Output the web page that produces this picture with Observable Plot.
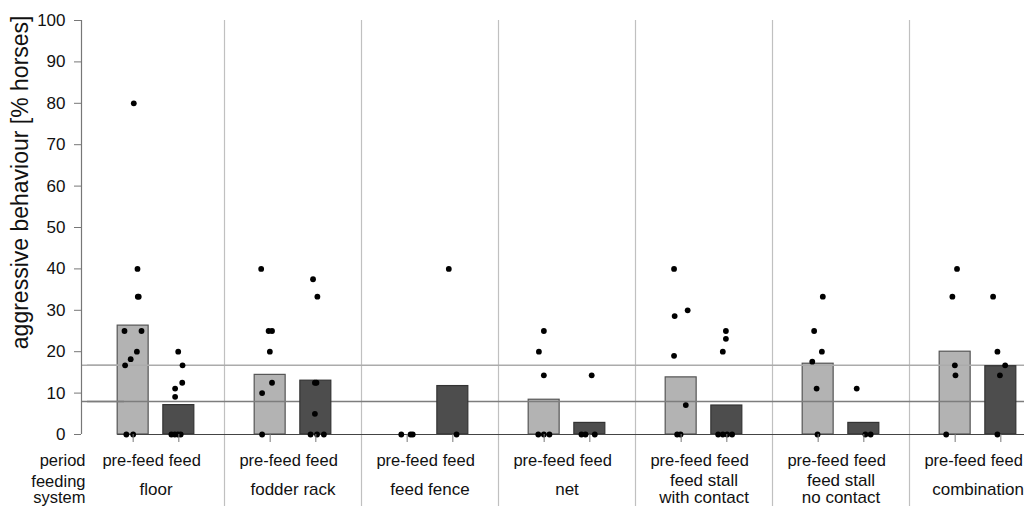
<!DOCTYPE html>
<html>
<head>
<meta charset="utf-8">
<script src="https://cdn.jsdelivr.net/npm/d3@7"></script>
<script src="https://cdn.jsdelivr.net/npm/@observablehq/plot@0.6"></script>
<style>
  html, body { margin: 0; padding: 0; background: white; overflow: hidden; }
</style>
</head>
<body>
<div id="chart"></div>
<script>
// ---- data ----
const systems = ["floor", "fodder rack", "feed fence", "net", "feed stall\nwith contact", "feed stall\nno contact", "combination"];
const periods = ["pre-feed", "feed"];
const preFeedMean = [26.3, 14.4, 0, 8.4, 13.8, 17.1, 20.0];
const feedMean = [7.1, 13.0, 11.7, 2.8, 7.0, 2.8, 16.5];
const preFeedHorses = [
  [80, 40, 33.3, 33.3, 25, 25, 20, 18.2, 16.7, 0, 0],
  [40, 25, 25, 20, 12.5, 10, 0],
  [0, 0, 0],
  [25, 20, 14.3, 0, 0, 0],
  [40, 30, 28.6, 19, 7.1, 0, 0],
  [33.3, 25, 20, 17.6, 11.1, 0],
  [40, 33.3, 16.7, 14.3, 0]
];
const preFeedJitter = [
  [0.02, 0.14, 0.15, 0.18, -0.28, 0.27, 0.12, -0.08, -0.26, -0.22, 0.0],
  [-0.29, -0.05, 0.06, -0.01, 0.06, -0.26, -0.26],
  [-0.19, 0.11, 0.18],
  [-0.01, -0.17, -0.01, -0.19, -0.01, 0.17],
  [-0.23, 0.21, -0.21, -0.23, 0.15, -0.13, -0.02],
  [0.15, -0.13, 0.12, -0.19, -0.05, -0.02],
  [0.06, -0.09, -0.01, 0.01, -0.29]
];
const feedHorses = [
  [20, 16.7, 12.5, 11.1, 9.1, 0, 0, 0, 0],
  [37.5, 33.3, 12.5, 12.5, 5, 0, 0, 0],
  [40, 0],
  [14.3, 0, 0, 0],
  [25, 23.1, 20, 0, 0, 0, 0],
  [11.1, 0, 0],
  [33.3, 20, 16.7, 14.3, 0]
];
const feedJitter = [
  [-0.02, 0.12, 0.11, -0.12, -0.12, -0.24, -0.13, -0.03, 0.06],
  [-0.09, 0.05, -0.03, 0.02, -0.03, -0.17, 0.04, 0.26],
  [-0.13, 0.12],
  [0.06, -0.27, -0.14, 0.16],
  [-0.03, -0.03, -0.13, -0.28, -0.13, 0.01, 0.17],
  [-0.23, 0.05, 0.22],
  [-0.25, -0.11, 0.14, -0.03, -0.11]
];
const referenceLines = [16.7, 8.0];
const yTicks = [0, 10, 20, 30, 40, 50, 60, 70, 80, 90, 100];

// ---- tables built from the arrays ----
const xPos = periods.map((p, i) => (i + 1) / (periods.length + 1));
const barW = 0.226; // bar width as a fraction of a group
const bars = [];
systems.forEach((s, i) => {
  bars.push({system: s, period: "pre-feed", value: preFeedMean[i]});
  bars.push({system: s, period: "feed", value: feedMean[i]});
});
const points = [];
systems.forEach((s, i) => {
  preFeedHorses[i].forEach((v, j) => points.push({system: s, period: "pre-feed", value: v, jitter: preFeedJitter[i][j]}));
  feedHorses[i].forEach((v, j) => points.push({system: s, period: "feed", value: v, jitter: feedJitter[i][j]}));
});
const px = p => xPos[periods.indexOf(p)];

const font = "'Liberation Sans', Arial, sans-serif";
const chart = Plot.plot({
  width: 1024,
  height: 506,
  marginTop: 20,
  marginBottom: 72,
  marginLeft: 87,
  marginRight: -22,
  style: {fontFamily: font, fontSize: "17px", background: "white", color: "#111", overflow: "hidden"},
  fx: {domain: systems, padding: 0, axis: null},
  x: {domain: [0, 1], axis: null},
  y: {domain: [0, 100], axis: null},
  marks: [
    // group dividers
    Plot.ruleX(systems.slice(0, -1), {fx: d => d, x: () => 1, stroke: "#c0c0c0", strokeWidth: 1.2, insetBottom: -72}),
    // pre-feed bars
    Plot.rect(bars.filter(d => d.period === "pre-feed" && d.value > 0), {
      fx: "system", x1: d => px(d.period) - barW / 2, x2: d => px(d.period) + barW / 2,
      y1: () => 0, y2: "value", fill: "#b3b3b3", stroke: "#555", strokeWidth: 1.2
    }),
    // reference lines
    Plot.ruleY(referenceLines, {stroke: (d, i) => i === 0 ? "#ababab" : "#7d7d7d", strokeWidth: 1.5}),
    Plot.ruleY(referenceLines, {stroke: (d, i) => i === 0 ? "#ababab" : "#7d7d7d", strokeWidth: 1.5, insetLeft: -6, insetRight: 100, facetAnchor: "left"}),
    // feed bars
    Plot.rect(bars.filter(d => d.period === "feed" && d.value > 0), {
      fx: "system", x1: d => px(d.period) - barW / 2, x2: d => px(d.period) + barW / 2,
      y1: () => 0, y2: "value", fill: "#4d4d4d", stroke: "#333", strokeWidth: 1.2
    }),
    // baseline
    Plot.ruleY(systems.slice(0, 1), {fx: d => d, y: () => 0, x1: () => xPos[0] - barW / 2, x2: () => 1, stroke: "#444", strokeWidth: 1.2}),
    Plot.ruleY(systems.slice(1), {fx: d => d, y: () => 0, stroke: "#444", strokeWidth: 1.2}),
    // individual horses
    Plot.dot(points, {fx: "system", x: d => px(d.period) + d.jitter * barW, y: "value", r: 2.9, fill: "black", stroke: null}),
    // y axis
    Plot.ruleX([0], {y1: 0, y2: 100, dx: -6, stroke: "#777", strokeWidth: 1.2, facetAnchor: "left"}),
    Plot.axisY({ticks: yTicks, tickSize: 7, tickPadding: 9, dx: -6, stroke: "#777", fill: "#111", fontSize: 17, label: null}),
    // x axis ticks (period)
    Plot.axisX({ticks: xPos, tickFormat: null, text: null, tickSize: 8, stroke: "#777", label: null}),
    Plot.text(periods.slice(0, 1), {x: d => px(d), text: d => d, frameAnchor: "bottom", dy: 26, lineAnchor: "middle", fontSize: 16.5, fill: "#111"}),
    Plot.text(periods.slice(1), {x: d => px(d), text: d => d, frameAnchor: "bottom", dx: 6, dy: 26, lineAnchor: "middle", fontSize: 16.5, fill: "#111"}),
    // feeding system labels
    Plot.text(systems, {fx: d => d, text: d => d, frameAnchor: "bottom", dy: 55, lineAnchor: "middle", fontSize: 17, fill: "#111"}),
    // row labels
    Plot.text(["period"], {frameAnchor: "bottom-left", dx: -2, dy: 26, textAnchor: "end", lineAnchor: "middle", fontSize: 16.5, fill: "#111", facetAnchor: "left"}),
    Plot.text(["feeding\nsystem"], {frameAnchor: "bottom-left", dx: -2, dy: 55, textAnchor: "end", lineAnchor: "middle", fontSize: 16.5, fill: "#111", facetAnchor: "left"}),
    // y title
    Plot.text(["aggressive behaviour [% horses]"], {frameAnchor: "top-left", dx: -67, dy: -5, rotate: -90, textAnchor: "end", lineAnchor: "middle", fontSize: 23, fill: "#111", facetAnchor: "left"})
  ]
});
document.getElementById("chart").appendChild(chart);
</script>
</body>
</html>
